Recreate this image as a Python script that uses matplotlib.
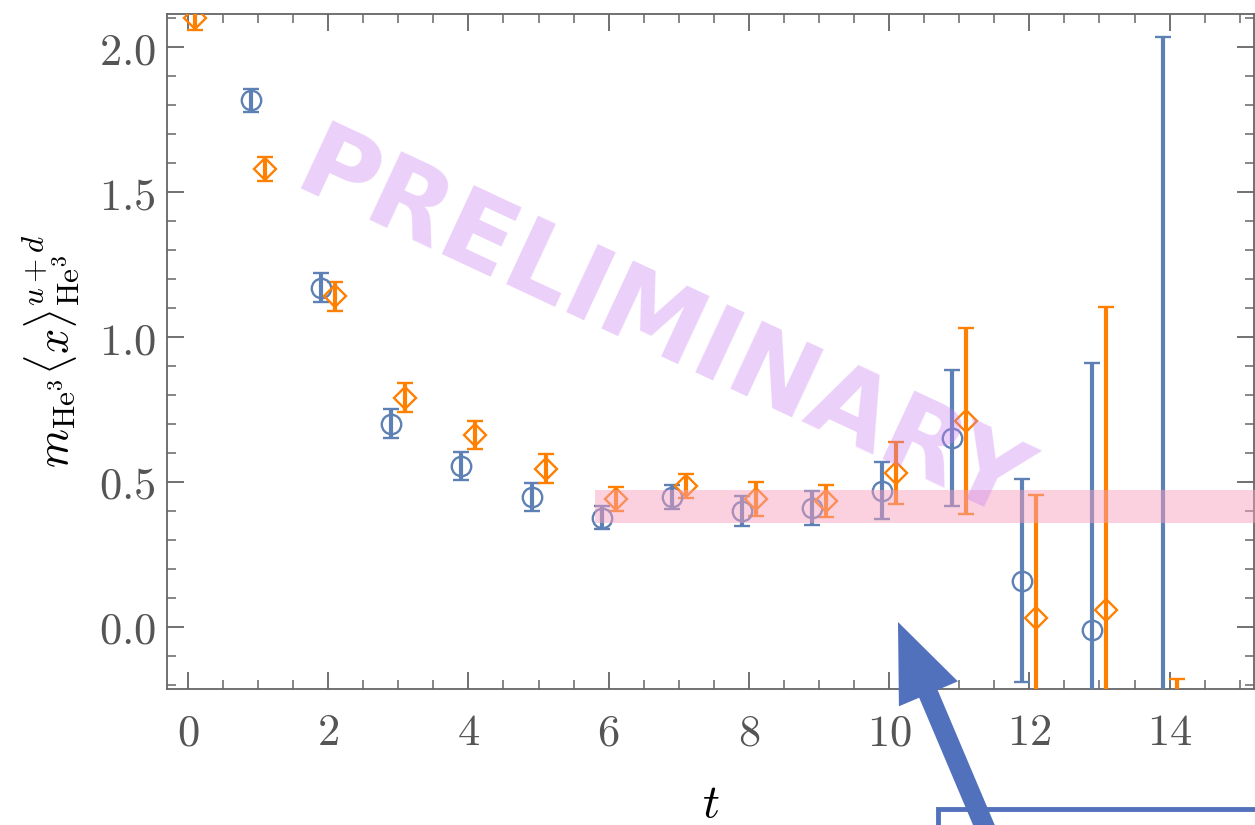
import numpy as np
import matplotlib.pyplot as plt
from matplotlib.patches import FancyArrow, Rectangle
from matplotlib.ticker import MultipleLocator, FuncFormatter

plt.rcParams['mathtext.fontset'] = 'cm'
plt.rcParams['font.family'] = 'DejaVu Serif'

# data
t_blue = [1, 2, 3, 4, 5, 6, 7, 8, 9, 10, 11, 12, 13, 14]
y_blue = [1.817, 1.169, 0.700, 0.555, 0.448, 0.376, 0.448, 0.400, 0.410, 0.470, 0.652, 0.159, -0.010, -0.40]
e_blue = [0.040, 0.050, 0.050, 0.048, 0.047, 0.040, 0.040, 0.053, 0.057, 0.097, 0.235, 0.350, 0.920, 2.435]

t_orange = [0, 1, 2, 3, 4, 5, 6, 7, 8, 9, 10, 11, 12, 13, 14]
y_orange = [2.100, 1.579, 1.141, 0.790, 0.662, 0.545, 0.441, 0.486, 0.441, 0.434, 0.531, 0.710, 0.031, 0.059, -0.60]
e_orange = [0.040, 0.041, 0.050, 0.050, 0.048, 0.050, 0.040, 0.040, 0.057, 0.055, 0.107, 0.320, 0.424, 1.045, 0.420]

band_t0 = 5.8
band_lo, band_hi = 0.357, 0.473

blue = '#5E81B5'
orange = '#FF8000'

fig = plt.figure(figsize=(12.55, 8.25), dpi=100)
ax = fig.add_axes([0.133, 0.165, 0.866, 0.818])

ax.errorbar(np.array(t_blue) - 0.1, y_blue, yerr=e_blue, fmt='o', color=blue,
            mfc='none', mec=blue, ms=14, mew=1.7, elinewidth=3.0,
            capsize=5.5, capthick=3.4, zorder=3)
ax.errorbar(np.array(t_orange) + 0.1, y_orange, yerr=e_orange, fmt='D', color=orange,
            mfc='none', mec=orange, ms=11, mew=1.7, elinewidth=3.0,
            capsize=5.5, capthick=3.4, zorder=3)

# fit band
ax.fill_between([band_t0, 16], band_lo, band_hi, color='#F7A0BE', alpha=0.48,
                lw=0, zorder=4)

ax.set_xlim(-0.3, 15.2)
ax.set_ylim(-0.214, 2.114)

ax.xaxis.set_major_locator(MultipleLocator(2))
ax.xaxis.set_minor_locator(MultipleLocator(0.5))
ax.yaxis.set_major_locator(MultipleLocator(0.5))
ax.yaxis.set_minor_locator(MultipleLocator(0.1))
ax.xaxis.set_major_formatter(FuncFormatter(lambda v, p: r'$%d$' % round(v)))
ax.yaxis.set_major_formatter(FuncFormatter(lambda v, p: r'$%.1f$' % v))

ax.tick_params(which='both', direction='in', top=True, right=True,
               color='#666666', labelcolor='#555555', labelsize=32)
ax.tick_params(which='major', length=12, width=1.3)
ax.tick_params(which='minor', length=6.5, width=1.1)
ax.tick_params(axis='x', pad=16)
ax.tick_params(axis='y', pad=8)
for s in ax.spines.values():
    s.set_color('#666666')
    s.set_linewidth(1.3)

ax.set_xlabel(r'$t$', fontsize=34, labelpad=20)
ax.set_ylabel(r'$m_{\mathrm{He}^3}\langle x\rangle^{u+d}_{\mathrm{He}^3}$',
              fontsize=32, labelpad=12)

# watermark
ax.text(0.455, 0.532, 'PRELIMINARY', transform=ax.transAxes, fontsize=75,
        fontweight='heavy', family='DejaVu Sans', color='#C77DF0', alpha=0.36,
        rotation=-25, ha='center', va='center', zorder=5)

# arrow and box annotation (figure inches)
box = Rectangle((9.38, -0.5), 4.0, 0.66, transform=fig.dpi_scale_trans,
                fill=False, ec='#5271BC', lw=3.5, clip_on=False)
fig.add_artist(box)
arrow = FancyArrow(9.86, -0.05, -0.88, 2.08, width=0.20, head_width=0.64,
                   head_length=0.78, length_includes_head=True,
                   transform=fig.dpi_scale_trans, color='#5271BC', lw=0)
fig.add_artist(arrow)

fig.savefig('out.png', dpi=100)
